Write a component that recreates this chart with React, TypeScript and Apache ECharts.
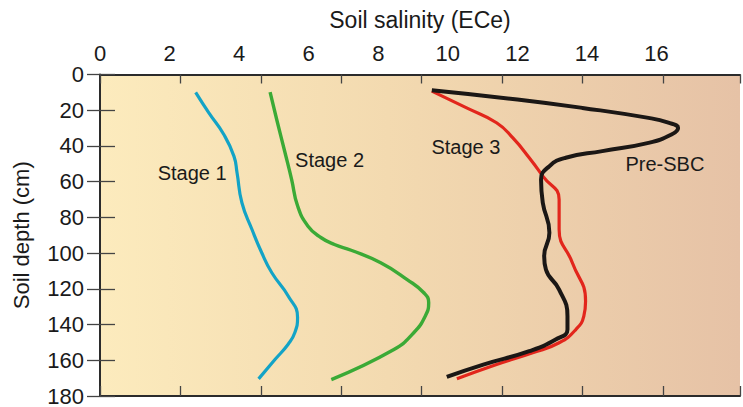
import React, { useEffect, useRef } from "react";
import * as echarts from "echarts";

// Salinity (ECe), with matching depth (cm)
const stage1Salinity = [2.75, 3.13, 3.56, 3.85, 3.94, 4.08, 4.37, 4.65, 4.94, 5.41, 5.68, 5.6, 5.41, 5.03, 4.56];
const stage1Depth = [10, 21.5, 33.6, 45.7, 55, 71.8, 86.8, 99.8, 111, 124, 136, 144.6, 151, 159.6, 170.4];

const stage2Salinity = [4.89, 5.08, 5.32, 5.51, 5.68, 5.98, 6.36, 6.74, 7.22, 8.07, 8.83, 9.31, 9.45, 9.35, 9.02, 8.45, 6.65];
const stage2Depth = [9.9, 25.2, 43.8, 58.8, 73.5, 84.9, 91.4, 95.2, 98.4, 105.4, 114.8, 122.2, 127.8, 135.3, 144.6, 154, 170.8];

const stage3Salinity = [9.54, 10.54, 11.4, 11.87, 12.34, 12.73, 13.2, 13.2, 13.58, 13.96, 13.91, 13.68, 13.2, 12.44, 11.4, 10.26];
const stage3Depth = [9.3, 18.7, 27, 35.5, 46.6, 56.9, 70, 86.8, 105.4, 126.9, 135.3, 142.8, 150.2, 155.8, 162.4, 170.4];

const preSbcSalinity = [9.54, 12.0, 13.87, 15.77, 16.34, 16.62, 16.43, 15.77, 14.44, 13.39, 12.92, 12.68, 12.73, 12.92, 12.77, 12.82, 13.2, 13.44, 13.44, 13.1, 12.34, 11.02, 9.97];
const preSbcDepth = [8.8, 14, 18.7, 24.3, 27, 29.9, 33.6, 38.3, 42.9, 46.6, 51.3, 58.8, 71.8, 88.6, 101.7, 109.2, 120.4, 135.3, 142.8, 148.4, 154.9, 162.4, 169.3];

const seriesNames = ["Stage 1", "Stage 2", "Stage 3", "Pre-SBC"];
// label anchor for each curve name, in data units [salinity, depth]
const labelSalinity = [2.65, 6.6, 10.52, 16.24];
const labelDepth = [54.9, 47.6, 40.5, 50];

const yTicks = [0, 20, 40, 60, 80, 100, 120, 140, 160, 180];

const zip = (xs: number[], ys: number[]) => xs.map((x, i) => [x, ys[i]]);

export default function App() {
  const ref = useRef<HTMLDivElement>(null);
  useEffect(() => {
    if (!ref.current) return;
    const chart = echarts.init(ref.current, undefined, { renderer: "svg" });
    const font = "'Liberation Sans', Arial, Helvetica, sans-serif";
    const colors = ["#13A3C6", "#3BAA36", "#E2261C", "#1B1715"];
    const widths = [3.2, 3.4, 3.2, 4];
    const datas = [
      zip(stage1Salinity, stage1Depth),
      zip(stage2Salinity, stage2Depth),
      zip(stage3Salinity, stage3Depth),
      zip(preSbcSalinity, preSbcDepth),
    ];
    const tickAxisMax = 645 / 81.04;
    chart.setOption({
      animation: false,
      textStyle: { fontFamily: font },
      grid: {
        left: 100,
        top: 74.5,
        width: 645,
        height: 322,
        show: true,
        borderWidth: 0,
        backgroundColor: new echarts.graphic.LinearGradient(0, 0, 1, 0, [
          { offset: 0, color: "#FCEBBD" },
          { offset: 0.45, color: "#F3DAB0" },
          { offset: 1, color: "#E6C2A6" },
        ]),
      },
      xAxis: [
        {
          type: "value",
          position: "top",
          min: 0,
          max: 18.4,
          interval: 2,
          axisLine: { show: true, lineStyle: { color: "#2b2b2b", width: 2 } },
          axisTick: { show: false },
          splitLine: { show: false },
          axisLabel: {
            fontSize: 22,
            color: "#1a1a1a",
            margin: 10,
            fontFamily: font,
            formatter: (v: number) => (v > 16 ? "" : String(v)),
          },
          name: "Soil salinity (ECe)",
          nameLocation: "middle",
          nameGap: 43,
          nameTextStyle: { fontSize: 23, color: "#1a1a1a", fontFamily: font },
        },
        {
          type: "value",
          position: "top",
          min: 0,
          max: tickAxisMax,
          interval: 1,
          axisLine: { show: false },
          axisTick: { show: true, inside: true, length: 9, lineStyle: { color: "#444", width: 1.3 } },
          axisLabel: { show: false },
          splitLine: { show: false },
        },
        {
          type: "value",
          position: "bottom",
          min: 0,
          max: tickAxisMax,
          interval: 1,
          axisLine: { show: true, lineStyle: { color: "#2b2b2b", width: 2 } },
          axisTick: { show: true, inside: true, length: 10, lineStyle: { color: "#444", width: 1.3 } },
          axisLabel: { show: false },
          splitLine: { show: false },
        },
      ],
      yAxis: [
        {
          type: "value",
          inverse: true,
          min: yTicks[0],
          max: yTicks[yTicks.length - 1],
          interval: 20,
          position: "left",
          axisLine: { show: true, lineStyle: { color: "#2b2b2b", width: 2 } },
          axisTick: { show: true, inside: true, length: 15, lineStyle: { color: "#444", width: 1.3 } },
          splitLine: { show: false },
          axisLabel: { fontSize: 22, color: "#1a1a1a", margin: 16, fontFamily: font },
          name: "Soil depth (cm)",
          nameLocation: "middle",
          nameRotate: 90,
          nameGap: 68,
          nameTextStyle: { fontSize: 22, color: "#1a1a1a", fontFamily: font },
        },
        {
          type: "value",
          inverse: true,
          min: yTicks[0],
          max: yTicks[yTicks.length - 1],
          interval: 20,
          position: "right",
          axisLine: { show: false },
          axisTick: { show: true, inside: true, length: 13, lineStyle: { color: "#444", width: 1.3 } },
          splitLine: { show: false },
          axisLabel: { show: false },
        },
      ],
      series: datas.map((d, i) => ({
        name: seriesNames[i],
        type: "line",
        xAxisIndex: 0,
        yAxisIndex: 0,
        data: d,
        smooth: 0.5,
        showSymbol: false,
        symbol: "none",
        lineStyle: { color: colors[i], width: widths[i], cap: "butt", join: "round" },
        z: 2 + i,
        markPoint: {
          symbol: "circle",
          symbolSize: 0,
          silent: true,
          label: {
            show: true,
            position: "inside",
            fontSize: 20,
            color: "#1a1a1a",
            fontFamily: font,
            formatter: () => seriesNames[i],
          },
          data: [{ coord: [labelSalinity[i], labelDepth[i]] }],
        },
      })),
    });
    return () => chart.dispose();
  }, []);
  return (
    <div style={{ position: "absolute", left: 0, top: 0, width: 743, height: 407, background: "#fff" }}>
      <div ref={ref} style={{ width: 743, height: 407 }} />
    </div>
  );
}
